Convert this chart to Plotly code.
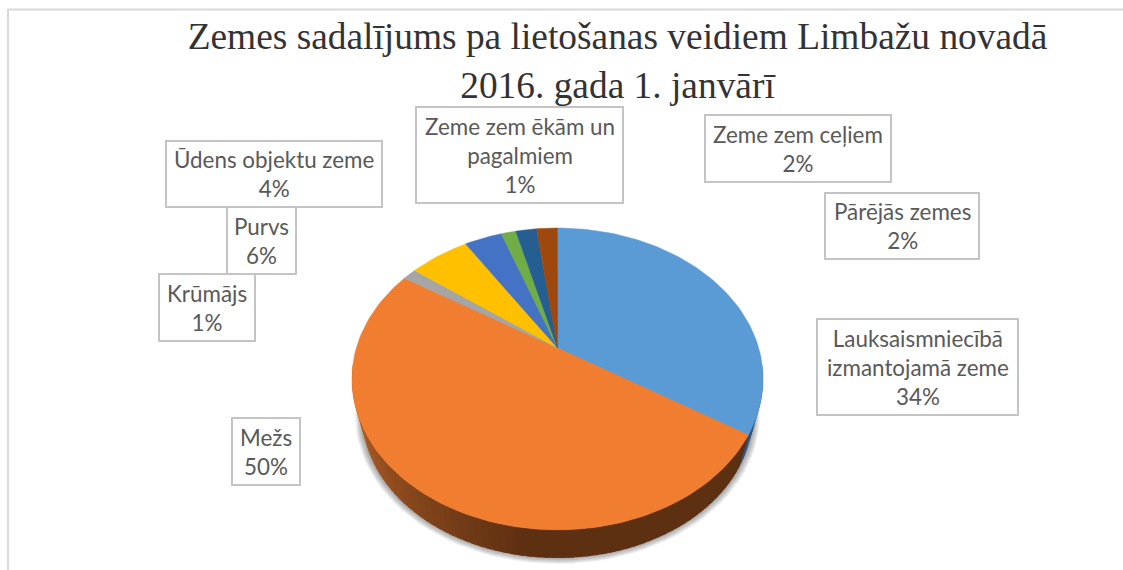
import math
import plotly.graph_objects as go

categories = ["Lauksaismniecībā<br>izmantojamā zeme", "Mežs", "Krūmājs", "Purvs",
              "Ūdens objektu zeme", "Zeme zem ēkām un<br>pagalmiem", "Zeme zem ceļiem", "Pārējās zemes"]
values = [34, 50, 1.3, 5.7, 3.6, 1.4, 2, 2]
colors = ["#5B9BD5", "#F07D30", "#A5A5A5", "#FFC000", "#4472C4", "#70AD47", "#255E91", "#9E480E"]
title_text = "Zemes sadalījums pa lietošanas veidiem Limbažu novadā<br>2016. gada 1. janvārī"
# label boxes: x0, y0, x1, y1 in page pixels
label_boxes = [(817, 319, 1018, 415), (232, 418, 300, 485), (159, 274, 255, 341), (227, 207, 296, 274),
               (166, 141, 382, 207), (416, 107, 623, 203), (705, 115, 891, 182), (825, 193, 979, 259)]

# tilted-disc projection
CX, AY, A, B, K = 557.5, 348, 201.2, 144.6, 0.205
DEPTH_BOTTOM = 558
WALL_SCALE = 0.95


def rim(t_deg, scale=1.0, ay=AY):
    t = math.radians(t_deg)
    s, c = math.sin(t), math.cos(t)
    d = 1 + K * c
    return CX + scale * A * s / d, ay - scale * B * c / d


def lerp(c0, c1, f):
    return "rgb(%d,%d,%d)" % tuple(round(a + (b - a) * f) for a, b in zip(c0, c1))


total = sum(values)
edges = [0]
for v in values:
    edges.append(edges[-1] + v / total * 360)

fig = go.Figure()


def poly(pts, fill):
    xs = [p[0] for p in pts] + [pts[0][0]]
    ys = [p[1] for p in pts] + [pts[0][1]]
    fig.add_trace(go.Scatter(x=xs, y=ys, mode="lines", fill="toself", fillcolor=fill,
                             line=dict(color=fill, width=0),
                             hoverinfo="skip", showlegend=False))


# soft shadow under the disc
for i in range(7):
    sc = 0.985 - i * 0.005
    bottom = 564 - i
    ay = bottom - sc * B / (1 - K)
    poly([rim(t, sc, ay) for t in range(0, 360, 3)], "rgba(0,0,0,0.06)")

# side wall: overlapping strips, painted from both ends toward the front
wall_ay = DEPTH_BOTTOM - WALL_SCALE * B / (1 - K)
step = 2
blue_end = edges[1]
t = 96
while t < 262:
    t2 = min(t + step, 262)
    if t2 <= blue_end:
        col = "rgb(45,85,130)"
    else:
        mid = (t + t2) / 2
        # dark across the front and right, lightening toward the left edge
        f = min(1, max(0, (mid - 188) / (250 - 188)))
        col = lerp((94, 48, 18), (176, 94, 38), f)
    b = t2 + 1.5
    poly([rim(t), rim(b), rim(b, WALL_SCALE, wall_ay), rim(t, WALL_SCALE, wall_ay)], col)
    t = t2

# top face
for i, v in enumerate(values):
    t0, t1 = edges[i], edges[i + 1]
    n = max(2, int((t1 - t0) / 1.5))
    pts = [(CX, AY)] + [rim(t0 + (t1 - t0) * j / n) for j in range(n + 1)]
    xs = [p[0] for p in pts] + [CX]
    ys = [p[1] for p in pts] + [AY]
    fig.add_trace(go.Scatter(x=xs, y=ys, mode="lines", fill="toself", fillcolor=colors[i],
                             line=dict(color=colors[i], width=0.5), name=categories[i].replace("<br>", " "),
                             hoverinfo="name", showlegend=False))

shapes = [
    dict(type="line", x0=8, y0=9.5, x1=1123, y1=9.5, line=dict(color="#d9d9d9", width=2)),
    dict(type="line", x0=8, y0=9, x1=8, y1=570, line=dict(color="#d9d9d9", width=2)),
]
annotations = []
for cat, v, (x0, y0, x1, y1) in zip(categories, values, label_boxes):
    shapes.append(dict(type="rect", x0=x0, y0=y0, x1=x1, y1=y1, line=dict(color="#c4c4c4", width=2)))
    annotations.append(dict(x=(x0 + x1) / 2, y=(y0 + y1) / 2, xref="x", yref="y", showarrow=False,
                            text=f"{cat}<br>{round(v / total * 100)}%", align="center",
                            font=dict(family="Lato", size=22.4, color="#595959")))

fig.update_layout(
    width=1123, height=570, margin=dict(l=0, r=0, t=0, b=0),
    paper_bgcolor="white", plot_bgcolor="white", showlegend=False,
    title=dict(text=title_text, x=617.5 / 1123, xanchor="center", xref="container",
               y=1 - 49 / 570, yanchor="top", yref="container",
               font=dict(family="Liberation Serif", size=37.4, color="#333333")),
    xaxis=dict(range=[0, 1123], visible=False, fixedrange=True),
    yaxis=dict(range=[570, 0], visible=False, fixedrange=True),
    shapes=shapes, annotations=annotations,
)

fig.write_html("out.html", config={"displayModeBar": False},
               post_script="document.body.style.margin='0';document.body.style.overflow='hidden';")
